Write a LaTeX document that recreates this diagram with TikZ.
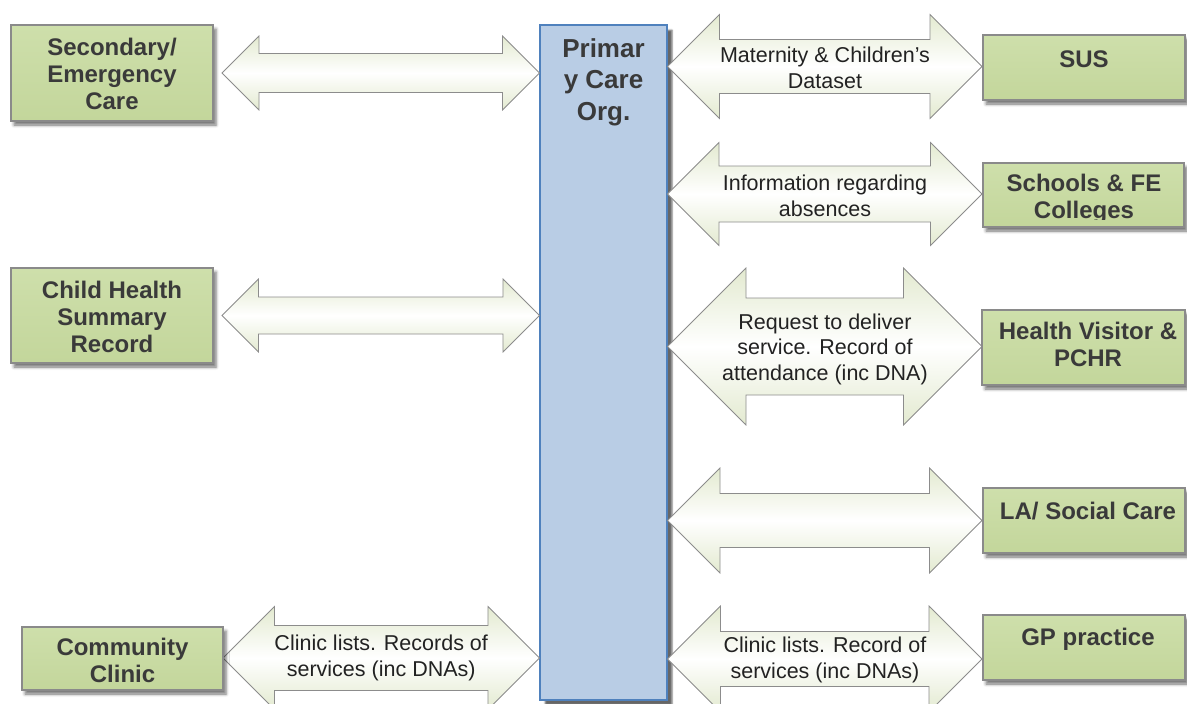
\documentclass[tikz,border=0pt]{standalone}
\usepackage{fontspec}
\setmainfont{Liberation Sans}
\usetikzlibrary{calc,shadows.blur}

\definecolor{boxgreen}{HTML}{C3D69B}
\definecolor{boxgreenhi}{HTML}{CEDFAB}
\definecolor{boxedge}{HTML}{8A8A8A}
\definecolor{pcofill}{HTML}{B9CDE5}
\definecolor{pcoedge}{HTML}{4F81BD}
\definecolor{arrowedge}{HTML}{8C8C8C}
\definecolor{arrowtint}{HTML}{E3EAD0}
\definecolor{boxtext}{HTML}{3A3A3A}
\definecolor{lbltext}{HTML}{222222}

% double-headed block arrow between two tip points:
% #1 left tip, #2 right tip, #3 head half-height, #4 shaft half-height
\newcommand\dblarrow[4]{%
  \path[blockarrow] let \p1=(#1), \p2=(#2) in
    (\x1,\y1) -- ++(#3,#3) -- ++(0,#4-#3) -- (\x2-#3,\y1+#4) -- ++(0,#3-#4)
    -- (\x2,\y1) -- ++(-#3,-#3) -- ++(0,#3-#4) -- (\x1+#3,\y1-#4)
    -- ++(0,#4-#3) -- cycle;}

\tikzset{
  entity/.style={draw=boxedge, line width=1.1pt, top color=boxgreenhi,
    bottom color=boxgreen, inner sep=0pt,
    blur shadow={shadow xshift=3pt, shadow yshift=-4pt, shadow blur radius=3pt,
      shadow opacity=55}},
  entitytxt/.style={font=\fontsize{24}{27}\selectfont\bfseries, text=boxtext,
    align=center, inner sep=0pt},
  pcobox/.style={draw=pcoedge, line width=1.1pt, fill=pcofill, inner sep=0pt,
    blur shadow={shadow xshift=5pt, shadow yshift=-5pt, shadow blur radius=1.5pt,
      shadow opacity=60}},
  pcotxt/.style={font=\fontsize{26}{31.5}\selectfont\bfseries, text=boxtext,
    align=center, inner sep=0pt},
  blockarrow/.style={draw=arrowedge, line width=0.8pt, top color=arrowtint,
    bottom color=arrowtint, middle color=white},
  lbl/.style={font=\fontsize{21.5}{25.5}\selectfont, text=lbltext,
    align=center, inner sep=0pt},
}

\begin{document}
\begin{tikzpicture}[x=1pt, y=-1pt]
\useasboundingbox (0,0) rectangle (1187,704);

% central organisation
\node[pcobox, minimum width=127pt, minimum height=675pt] (pco) at (603.5,362.5) {};
\node[pcotxt] (pcot) at (603.5,82) {Primar\\y Care\\Org.};

% tips of the block arrows
\coordinate (a1) at (222,73);
\coordinate (a2) at (222,315.5);
\coordinate (a3) at (223,658);
\coordinate (b1) at (982,66.5);
\coordinate (b2) at (982,194);
\coordinate (b3) at (982,346.5);
\coordinate (b4) at (982,520.5);
\coordinate (b5) at (982,659);

% left-hand links
\dblarrow{a1}{pco.west |- a1}{37pt}{19.5pt}
\dblarrow{a2}{pco.west |- a2}{36.5pt}{18.5pt}
\dblarrow{a3}{pco.west |- a3}{51.5pt}{32.5pt}

% right-hand links
\dblarrow{pco.east |- b1}{b1}{52pt}{27pt}
\dblarrow{pco.east |- b2}{b2}{51.5pt}{28pt}
\dblarrow{pco.east |- b3}{b3}{78.5pt}{48.5pt}
\dblarrow{pco.east |- b4}{b4}{52.5pt}{27pt}
\dblarrow{pco.east |- b5}{b5}{53pt}{27.5pt}

% arrow labels
\node[lbl] (l3) at ($(a3)!0.5!(pco.west |- a3)$) {Clinic lists. Records of\\services (inc DNAs)};
\node[lbl] (r1) at (825,68) {Maternity \& Children’s\\Dataset};
\node[lbl] (r2) at (825,196) {Information regarding\\absences};
\node[lbl] (r3) at (825,349) {Request to deliver\\service. Record of\\attendance (inc DNA)};
\node[lbl] (r5) at (825,660) {Clinic lists. Record of\\services (inc DNAs)};

% left-hand services
\node[entity, minimum width=202pt, minimum height=96pt] (sec) at (112,73) {};
\node[entitytxt] (sect) at (112,73.5) {Secondary/\\Emergency\\Care};
\node[entity, minimum width=202pt, minimum height=95pt] (chs) at (112,315.5) {};
\node[entitytxt] (chst) at (112,317) {Child Health\\Summary\\Record};
\node[entity, minimum width=201pt, minimum height=63pt] (cc) at (122.5,658.5) {};
\node[entitytxt] (cct) at (122.5,660.5) {Community\\Clinic};

% right-hand services
\node[entity, minimum width=202pt, minimum height=65pt] (sus) at (1084,67.5) {};
\node[entitytxt] (sust) at (1084,59) {SUS};
\node[entity, minimum width=201pt, minimum height=64pt] (sch) at (1083.5,195) {};
\begin{scope}
  \clip (980,150) rectangle (1190,219.5);
  \node[entitytxt] (scht) at (1084,199) {Schools \& FE\\Colleges};
\end{scope}
\node[entity, minimum width=203pt, minimum height=75pt] (hv) at (1083.5,347.5) {};
\node[entitytxt] (hvt) at (1088,344.5) {Health Visitor \&\\PCHR};
\node[entity, minimum width=202pt, minimum height=65pt] (la) at (1084,520.5) {};
\node[entitytxt] (lat) at (1088,511) {LA/ Social Care};
\node[entity, minimum width=202pt, minimum height=65pt] (gp) at (1084,647.5) {};
\node[entitytxt] (gpt) at (1088,639.5) {GP practice};
\end{tikzpicture}
\end{document}
